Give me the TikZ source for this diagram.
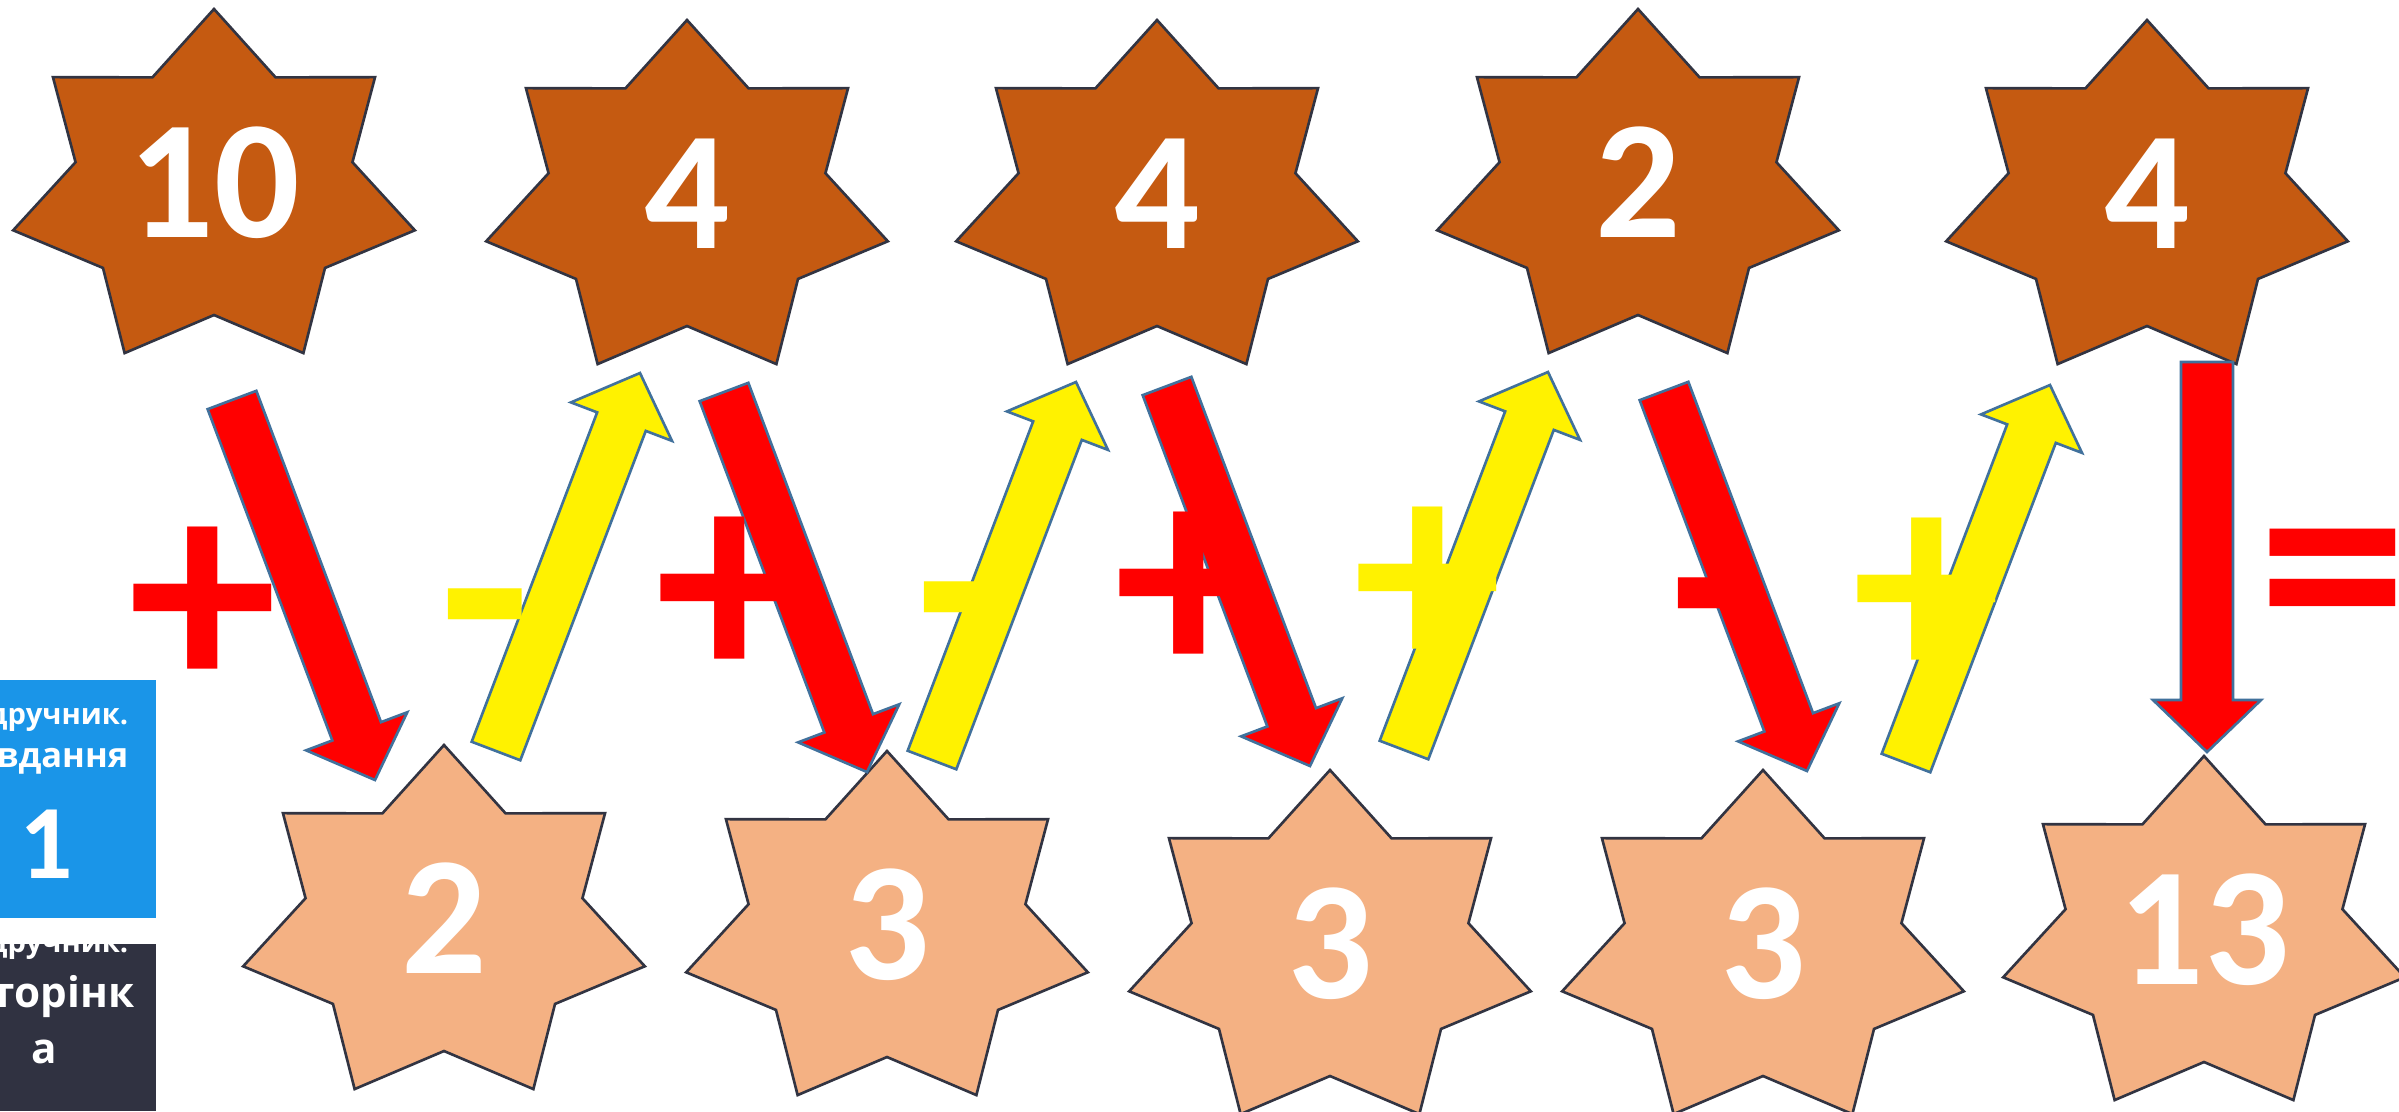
\documentclass[tikz,border=0pt]{standalone}
\usepackage{fontspec}
\setmainfont{Carlito}
\newfontfamily\osans{Open Sans}
\usetikzlibrary{calc}
\definecolor{topfill}{HTML}{C55A11}
\definecolor{botfill}{HTML}{F4B183}
\definecolor{starline}{RGB}{50,52,66}
\definecolor{arrline}{HTML}{41719C}
\definecolor{boxblue}{RGB}{26,149,232}
\definecolor{boxdark}{RGB}{48,50,65}
\tikzset{
  starshape/.style={draw=starline, line width=0.75pt, line join=miter},
  arrowshape/.style={draw=arrline, line width=0.75pt, line join=miter},
  num/.style={text=white, font=\fontsize{48}{48}\selectfont\bfseries, anchor=base, inner sep=0pt},
  sign/.style={font=\fontsize{85}{85}\selectfont\bfseries, anchor=base, inner sep=0pt},
  boxtext/.style={text=white, inner sep=0pt, anchor=base east},
}
\newcommand\sevenstar[5]{%
  \draw[starshape, fill=#4, shift={(#2,#3)}] (-90:206 and 181)
    \foreach \k in {0,...,6}{ -- ({-90+180/7+\k*360/7}:142 and 125) -- ({-90+(\k+1)*360/7}:206 and 181)} -- cycle;
  \node[num] (#1) at (#2,#3+47) {#5};
}
\newcommand\blockarrow[3]{%
  \coordinate (#3-h) at ($(#3)!0.52cm!(#2)$);
  \draw[arrowshape, #1] ($(#2)!0.26cm!90:(#3)$) -- ($(#3-h)!0.26cm!90:(#3)$) -- ($(#3-h)!0.54cm!90:(#3)$) -- (#3)
    -- ($(#3-h)!0.54cm!-90:(#3)$) -- ($(#3-h)!0.26cm!-90:(#3)$) -- ($(#2)!0.26cm!-90:(#3)$) -- cycle;
}
\begin{document}
\begin{tikzpicture}[x=0.01cm, y=-0.01cm]
\useasboundingbox (0,0) rectangle (2399,1111);
\fill[white] (0,0) rectangle (2399,1111);
% top stars
\sevenstar{t1}{214}{190}{topfill}{10}
\sevenstar{t2}{687}{201}{topfill}{4}
\sevenstar{t3}{1157}{201}{topfill}{4}
\sevenstar{t4}{1638}{190}{topfill}{2}
\sevenstar{t5}{2147}{201}{topfill}{4}
% bottom stars
\sevenstar{b1}{444}{926}{botfill}{2}
\sevenstar{b2}{887}{932}{botfill}{3}
\sevenstar{b3}{1330}{951}{botfill}{3}
\sevenstar{b4}{1763}{951}{botfill}{3}
\sevenstar{b5}{2204}{937}{botfill}{13}
% arrow end points
\coordinate (r1s) at (232,400);  \coordinate (r1e) at (375,780);
\coordinate (y1s) at (496,751);  \coordinate (y1e) at (640,373);
\coordinate (r2s) at (724,392);  \coordinate (r2e) at (867,772);
\coordinate (y2s) at (932,760);  \coordinate (y2e) at (1076,382);
\coordinate (r3s) at (1167,386); \coordinate (r3e) at (1310,766);
\coordinate (y3s) at (1404,750); \coordinate (y3e) at (1548,372);
\coordinate (r4s) at (1664,391); \coordinate (r4e) at (1807,771);
\coordinate (y4s) at (1906,763); \coordinate (y4e) at (2050,385);
\coordinate (r5s) at (2207,362); \coordinate (r5e) at (2207,752);
\blockarrow{fill=red}{r1s}{r1e}
\blockarrow{fill=yellow}{y1s}{y1e}
\blockarrow{fill=red}{r2s}{r2e}
\blockarrow{fill=yellow}{y2s}{y2e}
\blockarrow{fill=red}{r3s}{r3e}
\blockarrow{fill=yellow}{y3s}{y3e}
\blockarrow{fill=red}{r4s}{r4e}
\blockarrow{fill=yellow}{y4s}{y4e}
\blockarrow{fill=red}{r5s}{r5e}
% signs
\node[sign, text=red]    (s1) at (203,597+95) {+};
\node[sign, text=yellow] (s2) at (485,601+88) {-};
\node[sign, text=red]    (s3) at (730,587+95) {+};
\node[sign, text=yellow] (s4) at (961,594+88) {-};
\node[sign, text=red]    (s5) at (1189,582+95) {+};
\node[sign, text=yellow] (s6) at (1428,577+95) {+};
\node[sign, text=red]    (s7) at (1715,590+88) {-};
\node[sign, text=yellow] (s8) at (1927,588+95) {+};
\node[sign, text=red]    (s9) at (2333,567+95) {=};
% left boxes
\fill[boxblue] (0,680) rectangle (156,918);
\fill[boxdark] (0,944) rectangle (156,1111);
\begin{scope}
  \clip (0,680) rectangle (156,918);
  \node[boxtext, font=\osans\bfseries\fontsize{8.3}{10}\selectfont] (bl1) at (129,724) {Підручник.};
  \node[boxtext, font=\osans\bfseries\fontsize{9.8}{11}\selectfont] (bl2) at (129,767) {Завдання};
  \node[text=white, inner sep=0pt, anchor=base, font=\fontsize{30}{31}\selectfont\bfseries] (bl3) at (46,878) {1};
\end{scope}
\begin{scope}
  \clip (0,944) rectangle (156,1111);
  \node[boxtext, font=\osans\bfseries\fontsize{8.3}{10}\selectfont] (dl1) at (129,952) {Підручник.};
  \node[boxtext, font=\osans\bfseries\fontsize{12}{14}\selectfont] (dl2) at (135,1007) {Сторінк};
  \node[text=white, inner sep=0pt, anchor=base, font=\osans\bfseries\fontsize{12}{14}\selectfont] (dl3) at (44,1063) {а};
\end{scope}
\end{tikzpicture}
\end{document}
